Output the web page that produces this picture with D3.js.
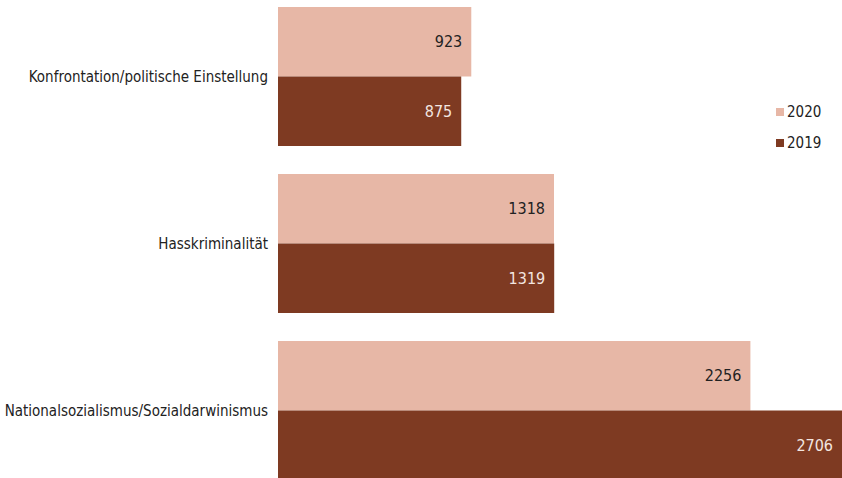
<!DOCTYPE html>
<html><head><meta charset="utf-8">
<script src="https://cdn.jsdelivr.net/npm/d3@7"></script>
<style>
html,body{margin:0;padding:0;background:#fff;overflow:hidden}
text{font-family:"Liberation Sans Narrow","DejaVu Sans Condensed",sans-serif}
</style></head>
<body><svg id="c" width="842" height="478"></svg>
<script>
const categories = ["Konfrontation/politische Einstellung","Hasskriminalität","Nationalsozialismus/Sozialdarwinismus"];
const seriesNames = ["2020","2019"];
const values2020 = [923,1318,2256];
const values2019 = [875,1319,2706];
const colors = ["#e7b7a6","#7e3a22"];
const labelColors = ["#222222","#f3e6e0"];

const svg = d3.select("#c");
const x0 = 278;
const x = d3.scaleLinear().domain([0,1000]).range([x0, x0+209.4]);
const pad = 28/167;
const y = d3.scaleBand().domain(categories).range([7, 7+167*(3-pad)]).paddingInner(pad).paddingOuter(0);
const y1 = d3.scaleBand().domain(seriesNames).range([0, y.bandwidth()]);

const data = categories.map((c,i)=>({cat:c, vals:[{s:"2020",v:values2020[i]},{s:"2019",v:values2019[i]}]}));

const g = svg.selectAll("g.grp").data(data).join("g").attr("class","grp")
  .attr("transform", d=>`translate(0,${y(d.cat)})`);

g.selectAll("rect").data(d=>d.vals).join("rect")
  .attr("x", x(0))
  .attr("y", d=>y1(d.s))
  .attr("width", d=>x(d.v)-x(0))
  .attr("height", y1.bandwidth())
  .attr("fill", (d,i)=>colors[i]);

g.selectAll("text.val").data(d=>d.vals).join("text").attr("class","val")
  .attr("x", d=>Math.min(x(d.v), 842)-9)
  .attr("y", d=>y1(d.s)+y1.bandwidth()/2)
  .attr("dy","0.35em")
  .attr("text-anchor","end")
  .attr("font-size",16)
  .attr("fill",(d,i)=>labelColors[i])
  .text(d=>d.v);

svg.selectAll("text.cat").data(categories).join("text").attr("class","cat")
  .attr("x", 268)
  .attr("y", d=>y(d)+y.bandwidth()/2)
  .attr("dy","0.35em")
  .attr("text-anchor","end")
  .attr("font-size",15)
  .attr("fill","#222")
  .text(d=>d);

const lg = svg.append("g").attr("transform","translate(776,112)");
const li = lg.selectAll("g").data(seriesNames).join("g").attr("transform",(d,i)=>`translate(0,${i*31})`);
li.append("rect").attr("x",0).attr("y",-4).attr("width",8).attr("height",8).attr("fill",(d,i)=>colors[i]);
li.append("text").attr("x",11).attr("y",0).attr("dy","0.35em").attr("font-size",15).attr("fill","#222").text(d=>d);
</script></body></html>
